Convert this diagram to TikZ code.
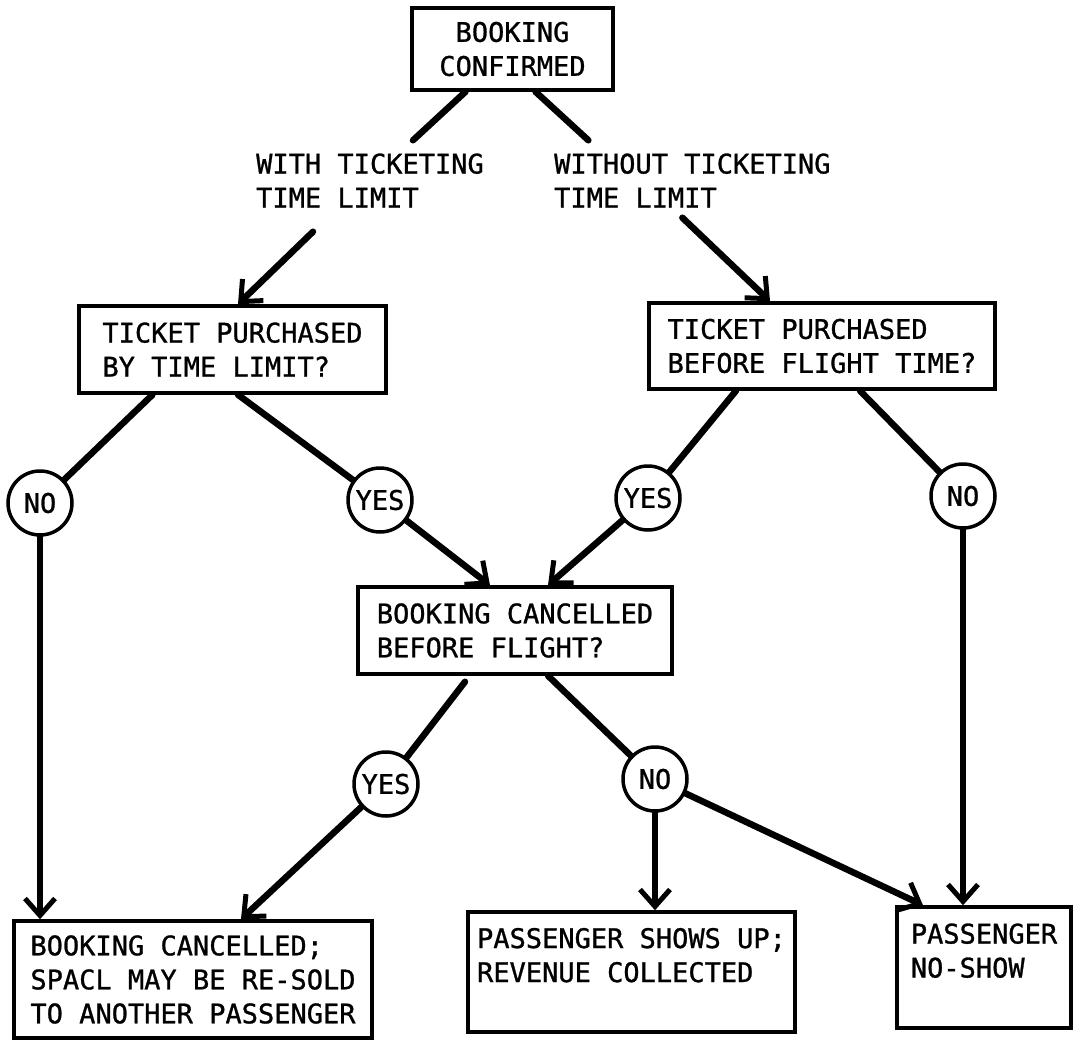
\documentclass[tikz,border=0pt]{standalone}
\usepackage{fontspec}
\newfontfamily\typedfont[FakeBold=1]{DejaVu Sans Mono}
\usetikzlibrary{arrows.meta}

\begin{document}
\begin{tikzpicture}[x=1pt, y=-1pt,
    every node/.style={font=\typedfont\fontsize{27pt}{34pt}\selectfont},
    box/.style={draw, line width=3.5pt, align=left, inner sep=0pt},
    answer/.style={draw, circle, line width=3.5pt, minimum size=64pt, inner sep=0pt},
    branch/.style={align=left, inner sep=4pt, anchor=west},
    link/.style={line width=6.5pt, line cap=round},
    arr/.style={link, -{Straight Barb[length=17pt, width=30pt, line width=5pt]}}]
    \path[use as bounding box, fill=white] (0,0) rectangle (1073,1041);

    \node[box, align=center, minimum width=201pt, minimum height=82pt] (conf) at (512.5,49) {BOOKING\\CONFIRMED};
    \node[branch] (withtl) at (252,180.5) {WITH TICKETING\\TIME LIMIT};
    \node[branch] (notl) at (550,180.5) {WITHOUT TICKETING\\TIME LIMIT};

    \node[box, minimum width=307pt, minimum height=87pt] (tpa) at (232.5,349.5) {TICKET PURCHASED\\BY TIME LIMIT?};
    \node[box, minimum width=346pt, minimum height=86pt] (tpb) at (822,346) {TICKET PURCHASED\\BEFORE FLIGHT TIME?};

    \node[answer] (noA) at (40,503) {NO};
    \node[answer] (yesA) at (380,500) {YES};
    \node[answer] (yesB) at (648,498) {YES};
    \node[answer] (noB) at (963,496) {NO};

    \node[box, minimum width=314pt, minimum height=87pt] (bcq) at (515,630.5) {BOOKING CANCELLED\\BEFORE FLIGHT?};

    \node[answer] (yesC) at (386,784) {YES};
    \node[answer] (noC) at (655,779) {NO};

    \node[box, minimum width=358pt, minimum height=117pt] (cancel) at (193,979.5) {BOOKING CANCELLED;\\SPACL MAY BE RE-SOLD\\TO ANOTHER PASSENGER};
    \node[box, minimum width=327pt, minimum height=120pt] (shows) at (631.5,972) {PASSENGER SHOWS UP;\\REVENUE COLLECTED\\\mbox{}};
    \node[box, minimum width=174pt, minimum height=121pt] (noshow) at (984,967.5) {PASSENGER\\NO-SHOW\\\mbox{}};

    \draw[link] ([xshift=-47pt]conf.south) -- ([xshift=43pt, yshift=9pt]withtl.north);
    \draw[link] ([xshift=23pt]conf.south) -- ([xshift=-104pt, yshift=9pt]notl.north);
    \draw[arr] ([xshift=-57pt, yshift=-20pt]withtl.south) -- ([xshift=5.5pt]tpa.north);
    \draw[arr] ([xshift=-10pt, yshift=-6pt]notl.south) -- ([xshift=-52pt]tpb.north);

    \draw[link] ([xshift=-80pt]tpa.south) -- (noA);
    \draw[link] ([xshift=5.5pt]tpa.south) -- (yesA);
    \draw[link] ([xshift=-86pt]tpb.south) -- (yesB);
    \draw[link] ([xshift=38pt]tpb.south) -- (noB);
    \draw[arr] (yesA) -- ([xshift=-25pt]bcq.north);
    \draw[arr] (yesB) -- ([xshift=33pt]bcq.north);

    \draw[link] ([xshift=-50pt, yshift=-6pt]bcq.south) -- (yesC);
    \draw[link] ([xshift=33pt]bcq.south) -- (noC);

    \draw[arr] (noA) -- (noA |- cancel.north);
    \draw[arr] (yesC) -- ([xshift=48pt]cancel.north);
    \draw[arr] (noC) -- (noC |- shows.north);
    \draw[arr] (noC) -- ([xshift=-61pt]noshow.north);
    \draw[arr] (noB) -- (noB |- noshow.north);
\end{tikzpicture}
\end{document}
